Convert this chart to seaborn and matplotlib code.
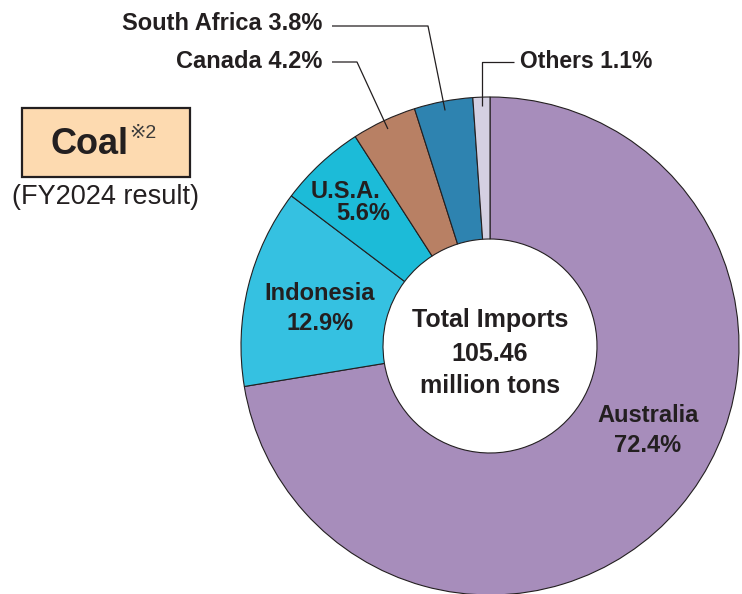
import numpy as np
import matplotlib
matplotlib.use("Agg")
import matplotlib.pyplot as plt
import seaborn as sns
from matplotlib.patches import Rectangle

# Coal imports by origin, FY2024 (share of total, %)
countries = ["Australia", "Indonesia", "U.S.A.", "Canada", "South Africa", "Others"]
shares = [72.4, 12.9, 5.6, 4.2, 3.8, 1.1]
total_imports = "105.46"

sns.set_theme(style="white")
plt.rcParams["font.family"] = ["Liberation Sans", "DejaVu Sans", "Noto Sans CJK JP"]

palette = sns.color_palette(["#a78dbb", "#35c1e1", "#1cbbd8", "#b88064", "#2e83b0", "#d4d0e2"])
ink = "#231f20"

W, H = 742, 594
fig = plt.figure(figsize=(W / 100, H / 100), dpi=100)
ax = fig.add_axes([0, 0, 1, 1])

cx, cy = 490, 248
R, r_in = 249, 107

wedges, _ = ax.pie(
    shares, colors=palette, startangle=90, counterclock=False,
    radius=R, center=(cx, cy), frame=True,
    wedgeprops=dict(width=R - r_in, edgecolor=ink, linewidth=0.8),
)
ax.set_xlim(0, W)
ax.set_ylim(0, H)
ax.set_aspect("equal")
ax.axis("off")

# mid-angle point inside each wedge (for leader lines)
def wedge_point(i, frac=0.963):
    start = 90 - 360 * sum(shares[:i]) / 100
    mid = start - 360 * shares[i] / 200
    a = np.deg2rad(mid)
    return cx + frac * R * np.cos(a), cy + frac * R * np.sin(a)

bold = dict(fontsize=17, fontweight="bold", color=ink, ha="center", va="center")
centre = dict(bold, fontsize=18)

# centre text
ax.text(cx, H - 320, "Total Imports", **centre)
ax.text(cx, H - 354, total_imports, **centre)
ax.text(cx, H - 386, "million tons", **centre)

# in-wedge labels
ax.text(648, H - 415, countries[0], **bold)
ax.text(648, H - 445, f"{shares[0]}%", **bold)
ax.text(320, H - 294, countries[1], **bold)
ax.text(320, H - 324, f"{shares[1]}%", **bold)
ax.text(345, H - 191, countries[2], **bold)
ax.text(363, H - 213, f"{shares[2]}%", **bold)

lw = 0.9
# Canada
px, py = wedge_point(3)
ax.plot([px, 357, 332], [py, H - 62, H - 62], color=ink, lw=lw, solid_capstyle="butt")
ax.text(322, H - 61, f"{countries[3]} {shares[3]}%", fontsize=17, fontweight="bold",
        color=ink, ha="right", va="center")
# South Africa
px, py = wedge_point(4)
ax.plot([px, 428, 332], [py, H - 26, H - 26], color=ink, lw=lw, solid_capstyle="butt")
ax.text(322, H - 23, f"{countries[4]} {shares[4]}%", fontsize=17, fontweight="bold",
        color=ink, ha="right", va="center")
# Others
px, py = wedge_point(5)
ax.plot([px, px, 514], [py, H - 62, H - 62], color=ink, lw=lw, solid_capstyle="butt")
ax.text(520, H - 61, f"{countries[5]} {shares[5]}%", fontsize=16.5, fontweight="bold",
        color=ink, ha="left", va="center")

# title box
ax.add_patch(Rectangle((22, H - 177), 168, 69, facecolor="#fddab0",
                       edgecolor=ink, linewidth=1.6))
ax.text(90, H - 145, "Coal", fontsize=26, fontweight="bold", color=ink,
        ha="center", va="center")
ax.text(129, H - 134, "※2", fontsize=14, color="#3a3a3a", ha="left", va="center")
ax.text(106, H - 197, "(FY2024 result)", fontsize=19.5, color=ink,
        ha="center", va="center")

fig.savefig("out.png", dpi=100)
